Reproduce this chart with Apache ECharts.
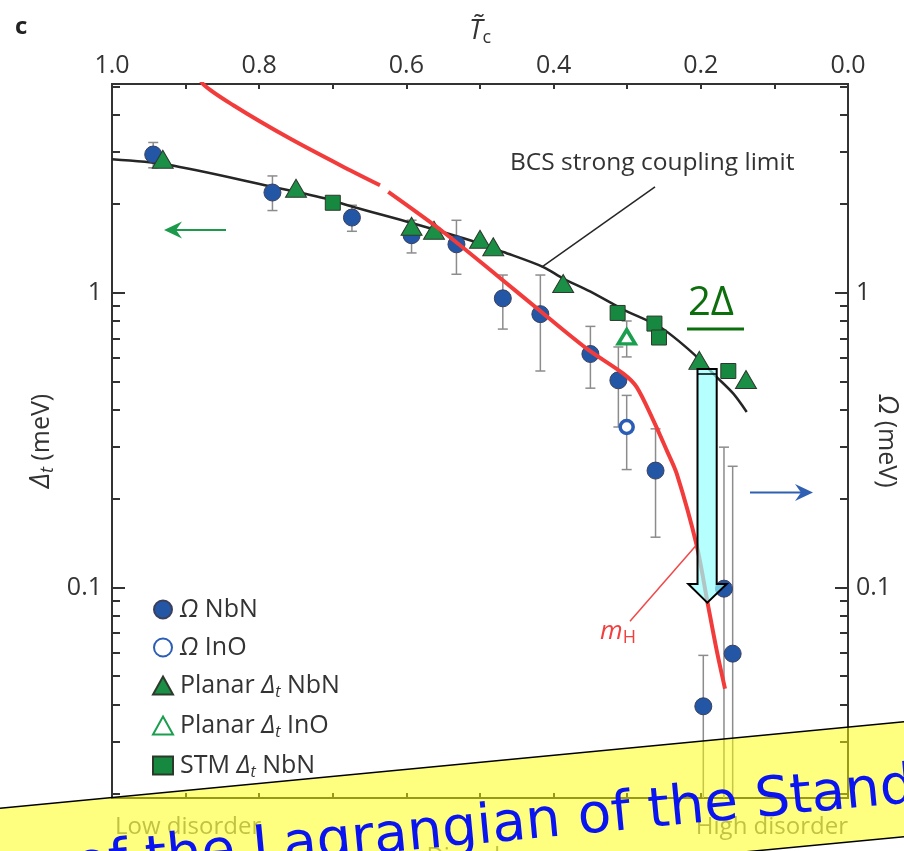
<!DOCTYPE html>
<html>
<head>
<meta charset="utf-8">
<script src="https://cdn.jsdelivr.net/npm/echarts@6/dist/echarts.min.js"></script>
<style>
  html, body { margin: 0; padding: 0; background: #fff; }
  #chart { width: 904px; height: 851px; }
</style>
</head>
<body>
<div id="chart"></div>
<script>
// x = reduced Tc (T~c), y = energy in meV (log axis)
const seriesNames = ['Ω NbN', 'Ω InO', 'Planar Δt NbN', 'Planar Δt InO', 'STM Δt NbN'];
const legendLabels = ['{i|Ω} NbN', '{i|Ω} InO', 'Planar {i|Δ}{s|t} NbN', 'Planar {i|Δ}{s|t} InO', 'STM {i|Δ}{s|t} NbN'];

const omegaNbN = [
  [0.944, 2.94], [0.782, 2.185], [0.674, 1.797], [0.593, 1.565], [0.532, 1.458],
  [0.469, 0.956], [0.418, 0.845], [0.350, 0.619], [0.312, 0.504], [0.2615, 0.249],
  [0.1685, 0.099], [0.1567, 0.0596], [0.1966, 0.0395]
];
// [x, low, high]
const omegaNbNErr = [
  [0.944, 2.65, 3.23], [0.782, 1.898, 2.487], [0.674, 1.614, 1.978], [0.593, 1.363, 1.76],
  [0.532, 1.154, 1.759], [0.469, 0.752, 1.147], [0.418, 0.542, 1.147], [0.350, 0.474, 0.768],
  [0.312, 0.350, 0.654], [0.2615, 0.148, 0.345], [0.1685, 0.01, 0.299], [0.1567, 0.01, 0.2575],
  [0.1966, 0.01, 0.0588]
];
const omegaInO = [[0.3007, 0.35]];
const omegaInOErr = [[0.3007, 0.251, 0.448]];
const planarNbN = [
  [0.931, 2.834], [0.75, 2.259], [0.593, 1.679], [0.5625, 1.627], [0.5, 1.517],
  [0.482, 1.43], [0.387, 1.073], [0.202, 0.589], [0.1386, 0.507]
];
const planarInO = [[0.3007, 0.708]];
const planarInOErr = [[0.3007, 0.605, 0.801]];
const stmNbN = [[0.700, 2.017], [0.313, 0.853], [0.263, 0.785], [0.2568, 0.704], [0.1626, 0.542]];

const bcsCurve = [
  [1.0, 2.834], [0.9257, 2.719], [0.7853, 2.295], [0.7129, 2.094], [0.6721, 1.952],
  [0.5928, 1.723], [0.5136, 1.505], [0.4683, 1.373], [0.414, 1.221], [0.3868, 1.116],
  [0.3505, 1.01], [0.3053, 0.876], [0.2554, 0.764], [0.2102, 0.621], [0.1784, 0.517],
  [0.1558, 0.454], [0.1376, 0.3934]
];
const higgsCurve = [
  [0.883, 5.6], [0.876, 5.09], [0.8352, 4.32], [0.7582, 3.33], [0.6766, 2.60], [0.6359, 2.312],
  [0.630, null],
  [0.6246, 2.194], [0.5499, 1.605], [0.4773, 1.145], [0.414, 0.849], [0.355, 0.6455],
  [0.3053, 0.531], [0.2871, 0.478], [0.2645, 0.3686], [0.2463, 0.2916], [0.2327, 0.243],
  [0.2056, 0.1388], [0.1906, 0.0881], [0.1784, 0.0611], [0.1671, 0.0453]
];
const bcsLeader = [[0.2622, 2.282], [0.4162, 1.221]];
const higgsLeader = [[0.2962, 0.0768], [0.2065, 0.1388]];

const xTicks = [0, 0.1, 0.2, 0.3, 0.4, 0.5, 0.6, 0.7, 0.8, 0.9, 1.0];
const xLabels = [0, 0.2, 0.4, 0.6, 0.8, 1.0];
const yMajor = [0.1, 1];
const yMinor = [0.02, 0.03, 0.04, 0.05, 0.06, 0.07, 0.08, 0.09, 0.2, 0.3, 0.4, 0.5, 0.6, 0.7, 0.8, 0.9, 2, 3, 4, 5];
const yMin = 0.0193, yMax = 5.1;

const FONT = '"Open Sans", sans-serif';
const INK = '#333';

function errorBar(params, api) {
  const x = api.value(0);
  const lo = api.coord([x, api.value(1)]);
  const hi = api.coord([x, api.value(2)]);
  const w = 5;
  const style = { stroke: '#8c8c8c', lineWidth: 1.5 };
  return {
    type: 'group',
    children: [
      { type: 'line', shape: { x1: lo[0], y1: lo[1], x2: hi[0], y2: hi[1] }, style },
      { type: 'line', shape: { x1: hi[0] - w, y1: hi[1], x2: hi[0] + w, y2: hi[1] }, style },
      { type: 'line', shape: { x1: lo[0] - w, y1: lo[1], x2: lo[0] + w, y2: lo[1] }, style }
    ]
  };
}

// onZero off: otherwise the y axes jump to x = 0 (right edge, inverse axis)
const axisLine = { show: true, onZero: false, lineStyle: { color: INK, width: 2 } };
const xBase = {
  type: 'value', min: 0, max: 1, inverse: true, splitLine: { show: false }, axisLine, nameMoveOverlap: false,
  axisTick: { inside: true, length: 5, customValues: xTicks, lineStyle: { color: INK, width: 2 } }
};
const yBase = { type: 'log', logBase: 10, min: yMin, max: yMax, splitLine: { show: false }, axisLine, nameMoveOverlap: false };
const majorTick = { inside: true, length: 13, customValues: yMajor, lineStyle: { color: INK, width: 2 } };
const minorTick = { inside: true, length: 8, customValues: yMinor, lineStyle: { color: INK, width: 2 } };
const yLabel = {
  customValues: yMajor, fontSize: 25, color: INK, fontFamily: FONT, margin: 10,
  formatter: v => String(+(+v).toPrecision(3))
};

const option = {
  animation: false,
  grid: { left: 112, right: 56, top: 84, bottom: 53, outerBoundsMode: 'none', containLabel: false },
  xAxis: [
    {
      ...xBase, position: 'top',
      axisLabel: { customValues: xLabels, formatter: v => (+v).toFixed(1), fontSize: 25, color: INK, fontFamily: FONT, margin: 6 },
      name: '{t|T\u0303}{s|c}', nameLocation: 'middle', nameGap: 37,
      nameTextStyle: {
        rich: {
          t: { fontSize: 27, fontStyle: 'italic', color: INK, fontFamily: FONT },
          s: { fontSize: 18, color: INK, fontFamily: FONT, padding: [14, 0, 0, 0] }
        }
      }
    },
    { ...xBase, position: 'bottom', axisLabel: { show: false } }
  ],
  yAxis: [
    {
      ...yBase, position: 'left', axisTick: majorTick, axisLabel: yLabel,
      name: '{d|Δ}{s|t} (meV)', nameLocation: 'middle', nameGap: 55, nameRotate: 90,
      nameTextStyle: {
        fontSize: 25, color: INK, fontFamily: FONT,
        rich: {
          d: { fontSize: 27, fontStyle: 'italic', color: INK, fontFamily: FONT },
          s: { fontSize: 18, fontStyle: 'italic', color: INK, fontFamily: FONT, padding: [13, 0, 0, 0] }
        }
      }
    },
    { ...yBase, position: 'left', axisTick: minorTick, axisLabel: { show: false } },
    {
      ...yBase, position: 'right', axisTick: majorTick, axisLabel: { ...yLabel, margin: 8 },
      name: '{o|Ω} (meV)', nameLocation: 'middle', nameGap: 25, nameRotate: -90,
      nameTextStyle: {
        fontSize: 25, color: INK, fontFamily: FONT,
        rich: { o: { fontSize: 27, fontStyle: 'italic', color: INK, fontFamily: FONT } }
      }
    },
    { ...yBase, position: 'right', axisTick: minorTick, axisLabel: { show: false } }
  ],
  legend: {
    data: seriesNames, orient: 'vertical', left: 147, top: 592,
    itemWidth: 20, itemHeight: 18, itemGap: 13,
    formatter: n => legendLabels[seriesNames.indexOf(n)],
    textStyle: {
      fontSize: 25, color: INK, fontFamily: FONT, padding: [0, 0, 0, 2],
      rich: {
        i: { fontSize: 25, fontStyle: 'italic', color: INK, fontFamily: FONT },
        s: { fontSize: 16, fontStyle: 'italic', color: INK, fontFamily: FONT, padding: [13, 0, 0, 0] }
      }
    }
  },
  series: [
    { type: 'custom', name: 'errOmegaNbN', renderItem: errorBar, data: omegaNbNErr, clip: true, z: 2, silent: true },
    { type: 'custom', name: 'errOmegaInO', renderItem: errorBar, data: omegaInOErr, clip: true, z: 2, silent: true },
    { type: 'custom', name: 'errPlanarInO', renderItem: errorBar, data: planarInOErr, clip: true, z: 2, silent: true },
    {
      type: 'line', name: 'BCS', data: bcsCurve, smooth: 0.3, symbol: 'none', z: 3,
      lineStyle: { color: '#262626', width: 2.5 }
    },
    {
      type: 'line', name: 'bcsLeader', data: bcsLeader, symbol: 'none', z: 3,
      lineStyle: { color: '#262626', width: 1.5 }
    },
    {
      type: 'scatter', name: seriesNames[0], data: omegaNbN, symbol: 'circle', symbolSize: 17, z: 4,
      itemStyle: { color: '#2456a6', borderColor: '#3a3f5c', borderWidth: 1, opacity: 1 }
    },
    {
      type: 'scatter', name: seriesNames[1], data: omegaInO, symbol: 'circle', symbolSize: 13, z: 4,
      itemStyle: { color: '#ffffff', borderColor: '#2a5db5', borderWidth: 3.5, opacity: 1 }
    },
    {
      type: 'scatter', name: seriesNames[2], data: planarNbN, symbol: 'triangle', symbolSize: [21, 18], z: 4,
      itemStyle: { color: '#1b8f45', borderColor: '#2f3a2f', borderWidth: 1, opacity: 1 }
    },
    {
      type: 'scatter', name: seriesNames[3], data: planarInO, symbol: 'triangle', symbolSize: [17, 14], z: 4,
      itemStyle: { color: '#ffffff', borderColor: '#1a9e4f', borderWidth: 3.5, opacity: 1 }
    },
    {
      type: 'scatter', name: seriesNames[4], data: stmNbN, symbol: 'rect', symbolSize: 15, z: 4,
      itemStyle: { color: '#17883f', borderColor: '#2a3a2a', borderWidth: 1, opacity: 1 }
    },
    {
      type: 'line', name: 'mH', data: higgsCurve, smooth: 0.3, symbol: 'none', connectNulls: false, z: 5,
      lineStyle: { color: '#f23c3c', width: 4 }
    },
    {
      type: 'line', name: 'mHLeader', data: higgsLeader, symbol: 'none', z: 5,
      lineStyle: { color: '#f04848', width: 1.5 }
    }
  ],
  graphic: [
    { type: 'text', left: 15, top: 15, style: { text: 'c', fontSize: 24, fontWeight: 'bold', fill: '#222', fontFamily: FONT } },
    {
      type: 'text', x: 510, y: 163,
      style: { text: 'BCS strong coupling limit', fontSize: 24.5, fill: INK, fontFamily: FONT, verticalAlign: 'middle' }
    },
    {
      type: 'text', x: 600, y: 632,
      style: {
        text: '{m|m}{h|H}', verticalAlign: 'middle',
        rich: {
          m: { fontSize: 26, fontStyle: 'italic', fill: '#f04040', fontFamily: FONT },
          h: { fontSize: 18, fill: '#f04040', fontFamily: FONT, padding: [12, 0, 0, 0] }
        }
      }
    },
    // green arrow (left axis) and blue arrow (right axis)
    { type: 'line', shape: { x1: 226, y1: 230, x2: 170, y2: 230 }, style: { stroke: '#1c9a4b', lineWidth: 2 } },
    { type: 'polygon', shape: { points: [[164, 230], [182, 221.5], [176, 230], [182, 238.5]] }, style: { fill: '#1c9a4b' } },
    { type: 'line', shape: { x1: 750, y1: 492.5, x2: 806, y2: 492.5 }, style: { stroke: '#2f60b2', lineWidth: 2 } },
    { type: 'polygon', shape: { points: [[813, 492.5], [795, 484], [801, 492.5], [795, 501]] }, style: { fill: '#2f60b2' } },
    // 2Δ annotation
    {
      type: 'text', x: 688, y: 304, z: 50,
      style: { text: '2Δ', fontSize: 40, fill: '#0d6e0d', fontFamily: FONT, verticalAlign: 'middle' }
    },
    { type: 'line', z: 50, shape: { x1: 687, y1: 329, x2: 744, y2: 329 }, style: { stroke: '#0d6e0d', lineWidth: 3 } },
    {
      type: 'polygon', z: 60,
      shape: { points: [[697.5, 369], [716.7, 369], [716.7, 584], [726.7, 584], [707.3, 602.7], [688.3, 584], [697.5, 584]] },
      style: { fill: 'rgba(150,255,255,0.7)', stroke: '#000', lineWidth: 2 }
    },
    { type: 'line', z: 60, shape: { x1: 697.5, y1: 374, x2: 716.7, y2: 374 }, style: { stroke: '#000', lineWidth: 1.5 } },
    // disorder labels at the bottom
    { type: 'text', x: 115, y: 827, style: { text: 'Low disorder', fontSize: 24, fill: '#858585', fontFamily: FONT, verticalAlign: 'middle' } },
    { type: 'text', x: 848, y: 827, style: { text: 'High disorder', fontSize: 24, fill: '#858585', fontFamily: FONT, verticalAlign: 'middle', align: 'right' } },
    { type: 'text', x: 475, y: 845, style: { text: 'Disorder', fontSize: 24, fill: '#858585', fontFamily: FONT, verticalAlign: 'top', align: 'center' } },
    // yellow banner
    {
      type: 'polygon', z: 200,
      shape: { points: [[-10, 809.3], [914, 720.7], [914, 835.7], [-10, 924.3]] },
      style: { fill: 'rgba(255,255,0,0.5)', stroke: '#000', lineWidth: 1.5 }
    },
    {
      type: 'text', z: 201, x: 78, y: 895, rotation: 0.0952,
      style: {
        text: 'of the Lagrangian of the Standard Model', fontSize: 55, fill: '#0a14f0',
        fontFamily: '"DejaVu Sans", sans-serif', verticalAlign: 'bottom'
      }
    }
  ]
};

const chart = echarts.init(document.getElementById('chart'), null, { renderer: 'canvas' });
chart.setOption(option);
</script>
</body>
</html>
